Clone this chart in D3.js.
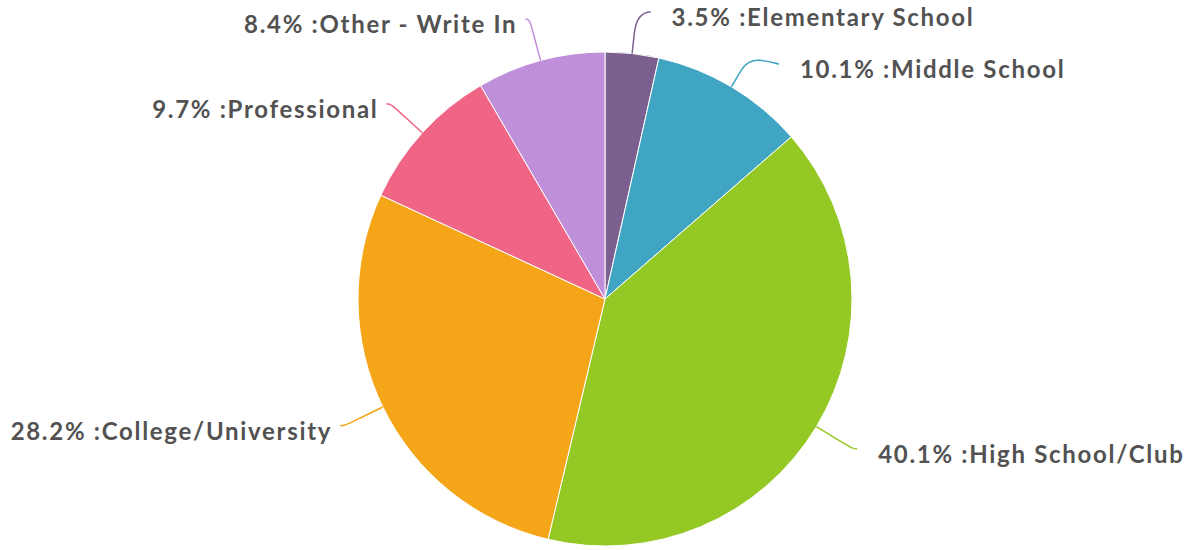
<!DOCTYPE html>
<html>
<head>
<meta charset="utf-8">
<script src="https://cdn.jsdelivr.net/npm/d3@7"></script>
<style>
  html, body { margin: 0; padding: 0; background: #ffffff; }
  svg { display: block; }
  .label { font-family: Lato, "Open Sans", sans-serif; font-weight: 700; font-size: 24px; fill: #525252; letter-spacing: 1.7px; }
</style>
</head>
<body>
<svg id="chart" width="1201" height="550"></svg>
<script>
// Share of respondents by competition level
const categories = ["Elementary School", "Middle School", "High School/Club", "College/University", "Professional", "Other - Write In"];
const percentValues = [3.5, 10.1, 40.1, 28.2, 9.7, 8.4];
const sliceColors = ["#7b5f8f", "#40a4c3", "#94c825", "#f5a518", "#f06486", "#bf90d9"];

const width = 1201, height = 550;
const cx = 605, cy = 299, radius = 247;
const labelRadius = 290;      // circle on which connector ends sit
const breakOffset = 20;       // radial length of straight connector part
const minLabelGap = 52;       // vertical spacing between labels on one side
const topLimit = 12;

const svg = d3.select("#chart");
const g = svg.append("g").attr("transform", `translate(${cx},${cy})`);

const data = categories.map((c, i) => ({ name: c, value: percentValues[i], color: sliceColors[i], index: i }));

const pie = d3.pie().value(d => d.value).sort(null);
const arcs = pie(data);
const arcGen = d3.arc().innerRadius(0).outerRadius(radius);

g.selectAll("path.slice")
  .data(arcs)
  .join("path")
  .attr("class", "slice")
  .attr("d", arcGen)
  .attr("fill", d => d.data.color)
  .attr("stroke", "#ffffff")
  .attr("stroke-width", 1);

// Label placement: natural position on the label circle, then push apart vertically
arcs.forEach(a => {
  a.mid = (a.startAngle + a.endAngle) / 2;
  a.right = a.mid < Math.PI;
  a.ly = -labelRadius * Math.cos(a.mid);
});
[true, false].forEach(side => {
  const group = arcs.filter(a => a.right === side).sort((p, q) => p.ly - q.ly);
  let prev = -Infinity;
  group.forEach(a => {
    let y = Math.max(a.ly, topLimit - cy);
    if (y < prev + minLabelGap) y = prev + minLabelGap;
    a.ly = y;
    prev = y;
  });
});
arcs.forEach(a => {
  const dir = a.right ? 1 : -1;
  const dy = Math.max(-labelRadius, Math.min(labelRadius, a.ly));
  a.lx = dir * (Math.sqrt(labelRadius * labelRadius - dy * dy) + 4);
});

// Soft connectors
g.selectAll("path.connector")
  .data(arcs)
  .join("path")
  .attr("class", "connector")
  .attr("fill", "none")
  .attr("stroke", d => d.data.color)
  .attr("stroke-width", 1.5)
  .attr("d", d => {
    const dir = d.right ? 1 : -1;
    const sx = Math.sin(d.mid), sy = -Math.cos(d.mid);
    const tx = radius * sx, ty = radius * sy;
    const bx = (radius + breakOffset) * sx, by = (radius + breakOffset) * sy;
    const p = d3.path();
    p.moveTo(d.lx, d.ly);
    p.bezierCurveTo(d.lx - dir * 5, d.ly, 2 * bx - tx, 2 * by - ty, bx, by);
    p.lineTo(tx, ty);
    return p.toString();
  });

// Labels
g.selectAll("text.label")
  .data(arcs)
  .join("text")
  .attr("class", "label")
  .attr("x", d => d.right ? d.lx + 21 : d.lx - 8)
  .attr("y", d => d.ly + 14)
  .attr("text-anchor", d => d.right ? "start" : "end")
  .text(d => `${d.data.value.toFixed(1)}% :${d.data.name}`);
</script>
</body>
</html>
